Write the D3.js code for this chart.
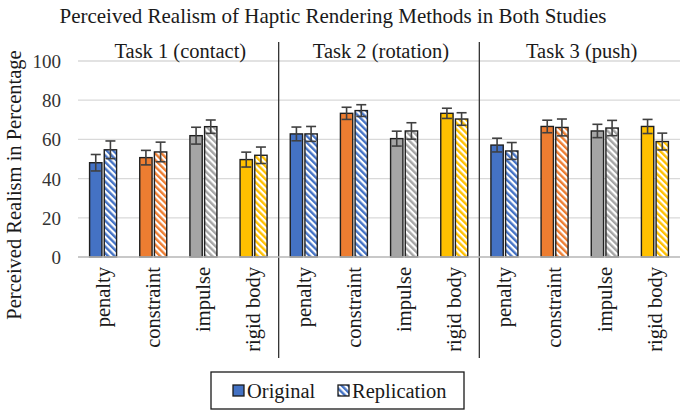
<!DOCTYPE html>
<html><head><meta charset="utf-8">
<script src="https://cdn.jsdelivr.net/npm/d3@7"></script>
<style>body{margin:0;background:#fff}svg{display:block}</style>
</head><body>
<svg id="chart" width="685" height="415"></svg>
<script>
const tasks = ["Task 1 (contact)", "Task 2 (rotation)", "Task 3 (push)"];
const methods = ["penalty", "constraint", "impulse", "rigid body"];
const originalMean = [48.1, 50.7, 61.9, 49.7, 62.8, 73.3, 60.4, 73.3, 57.1, 66.6, 64.3, 66.6];
const originalErr  = [4.2, 3.7, 4.3, 3.8, 3.5, 3.1, 3.8, 2.6, 3.5, 3.2, 3.4, 3.6];
const replicationMean = [54.7, 53.6, 66.5, 51.9, 62.8, 74.7, 64.3, 70.4, 54.1, 66.1, 65.8, 58.9];
const replicationErr  = [4.5, 5.0, 3.4, 4.2, 3.8, 3.0, 4.2, 3.2, 4.3, 4.3, 3.9, 4.3];
const methodColors = ["#4472C4", "#ED7D31", "#A5A5A5", "#FFC000"];
// hatch colour of replication bars (Task 2 constraint uses blue in the source)
const replicationHatch = ["#4472C4", "#ED7D31", "#A5A5A5", "#FFC000",
                          "#4472C4", "#4472C4", "#A5A5A5", "#FFC000",
                          "#4472C4", "#ED7D31", "#A5A5A5", "#FFC000"];
const yTicks = [0, 20, 40, 60, 80, 100];

(function () {
const svg = d3.select("#chart");
const font = "'Liberation Serif','Times New Roman',serif";
const pL = 78, pR = 680, pT = 61, pB = 257;
const txt = 20.5;

const cats = [];
tasks.forEach((t, ti) => methods.forEach((m, mi) => cats.push({key: ti + "-" + mi, task: ti, method: m, mi})));
cats.forEach((c, i) => {
  c.orig = originalMean[i]; c.origErr = originalErr[i];
  c.rep = replicationMean[i]; c.repErr = replicationErr[i];
  c.color = methodColors[c.mi]; c.hatch = replicationHatch[i];
});

const x = d3.scaleBand().domain(cats.map(c => c.key)).range([pL, pR]).padding(0);
const y = d3.scaleLinear().domain([0, 100]).range([pB, pT]);
const xs = d3.scaleBand().domain(["orig", "rep"]).range([-13.5, 13.5]).paddingInner(0.16);

// patterns
const defs = svg.append("defs");
const hatchColors = Array.from(new Set(replicationHatch));
hatchColors.forEach(col => {
  const p = defs.append("pattern").attr("id", "h" + col.slice(1))
    .attr("patternUnits", "userSpaceOnUse").attr("width", 4.6).attr("height", 10)
    .attr("patternTransform", "rotate(-45)");
  p.append("rect").attr("width", 4.6).attr("height", 10).attr("fill", "#fff");
  p.append("rect").attr("width", 2.4).attr("height", 10).attr("fill", col);
});

// title
svg.append("text").attr("x", 333).attr("y", 23).attr("text-anchor", "middle")
  .attr("font-family", font).attr("font-size", 21).attr("fill", "#1a1a1a")
  .text("Perceived Realism of Haptic Rendering Methods in Both Studies");

// gridlines
svg.append("g").selectAll("line").data(yTicks).join("line")
  .attr("x1", pL).attr("x2", pR).attr("y1", d => y(d)).attr("y2", d => y(d))
  .attr("stroke", "#d9d9d9").attr("stroke-width", 1.3);

// y axis labels
const yAxis = d3.axisLeft(y).tickValues(yTicks).tickSize(0).tickPadding(0);
const ga = svg.append("g").attr("transform", `translate(${pL - 17},0)`).call(yAxis);
ga.select(".domain").remove();
ga.selectAll("text").attr("font-family", font).attr("font-size", 19).attr("fill", "#333").attr("dy", "0.34em");

svg.append("text").attr("transform", `translate(21,${(pT + pB) / 2 + 26}) rotate(-90)`)
  .attr("text-anchor", "middle").attr("font-family", font).attr("font-size", txt).attr("fill", "#1a1a1a")
  .text("Perceived Realism in Percentage");

// dividers
[4, 8].forEach(i => {
  const xx = x(cats[i].key);
  svg.append("line").attr("x1", xx).attr("x2", xx).attr("y1", 42).attr("y2", 358)
    .attr("stroke", "#333").attr("stroke-width", 1.3);
});

// task labels
tasks.forEach((t, ti) => {
  const x0 = x(cats[ti * 4].key), x1 = x(cats[ti * 4 + 3].key) + x.bandwidth();
  svg.append("text").attr("x", (x0 + x1) / 2 + 2).attr("y", 58).attr("text-anchor", "middle")
    .attr("font-family", font).attr("font-size", txt).attr("fill", "#1a1a1a").text(t);
});

// bars
const g = svg.append("g");
cats.forEach(c => {
  const cx = x(c.key) + x.bandwidth() / 2;
  [["orig", c.orig, c.origErr, c.color], ["rep", c.rep, c.repErr, "url(#h" + c.hatch.slice(1) + ")"]].forEach(([k, v, e, fill]) => {
    const bx = cx + xs(k);
    g.append("rect").attr("x", bx).attr("y", y(v)).attr("width", xs.bandwidth()).attr("height", y(0) - y(v))
      .attr("fill", fill).attr("stroke", "#1f1f1f").attr("stroke-width", 1.4);
    const mx = bx + xs.bandwidth() / 2;
    const eg = g.append("g").attr("stroke", "#404040").attr("stroke-width", 1.6);
    eg.append("line").attr("x1", mx).attr("x2", mx).attr("y1", y(v + e)).attr("y2", y(v - e));
    eg.append("line").attr("x1", mx - 5).attr("x2", mx + 5).attr("y1", y(v + e)).attr("y2", y(v + e));
    eg.append("line").attr("x1", mx - 5).attr("x2", mx + 5).attr("y1", y(v - e)).attr("y2", y(v - e));
  });
});

// baseline
svg.append("line").attr("x1", pL).attr("x2", pR).attr("y1", y(0)).attr("y2", y(0))
  .attr("stroke", "#bfbfbf").attr("stroke-width", 1.3);

// category labels
const xAxis = d3.axisBottom(x).tickSize(0).tickFormat(k => cats.find(c => c.key === k).method);
const gx = svg.append("g").attr("transform", `translate(0,${pB + 10})`).call(xAxis);
gx.select(".domain").remove();
gx.selectAll("text").attr("font-family", font).attr("font-size", txt).attr("fill", "#1a1a1a")
  .attr("text-anchor", "end").attr("transform", "rotate(-90)").attr("x", 0).attr("y", 0).attr("dy", "0.33em");

// legend
const lg = svg.append("g");
lg.append("rect").attr("x", 211).attr("y", 372).attr("width", 253).attr("height", 37)
  .attr("fill", "#fff").attr("stroke", "#1a1a1a").attr("stroke-width", 1.3);
const items = [{label: "Original", fill: methodColors[0], x: 233}, {label: "Replication", fill: "url(#h4472C4)", x: 338}];
items.forEach(it => {
  lg.append("rect").attr("x", it.x).attr("y", 385).attr("width", 11).attr("height", 11)
    .attr("fill", it.fill).attr("stroke", "#1a1a1a").attr("stroke-width", 1.3);
  lg.append("text").attr("x", it.x + 14).attr("y", 398).attr("font-family", font).attr("font-size", 20.5)
    .attr("fill", "#1a1a1a").text(it.label);
});
})();
</script>
</body></html>
